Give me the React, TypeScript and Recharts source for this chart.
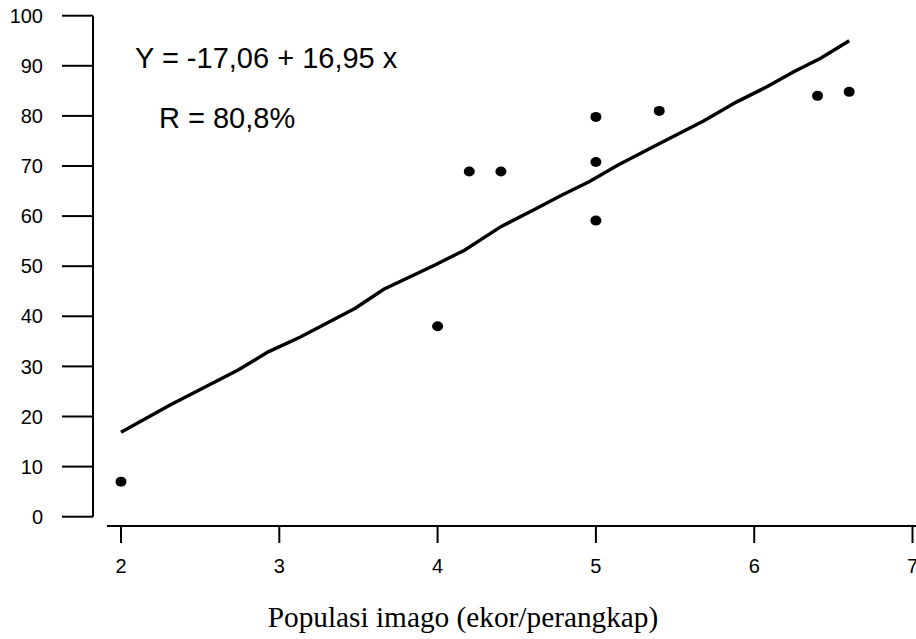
import React from 'react';
import {
  ScatterChart,
  Scatter,
  XAxis,
  YAxis,
  ReferenceLine,
  Customized,
} from 'recharts';

// Observed points
const pointX = [2, 4, 4.2, 4.4, 5, 5, 5, 5.4, 6.4, 6.6];
const pointY = [7, 38, 68.9, 68.9, 79.8, 70.8, 59.1, 81, 84, 84.8];

// Fitted regression line as drawn
const lineX = [2.0, 2.31, 2.74, 2.93, 3.13, 3.48, 3.66, 3.98, 4.17, 4.4, 4.63, 4.78, 4.96, 5.14, 5.39, 5.68, 5.89, 6.08, 6.25, 6.42, 6.6];
const lineY = [16.85, 22.3, 29.3, 32.9, 35.8, 41.6, 45.4, 50.2, 53.2, 57.9, 61.6, 64.1, 66.9, 70.2, 74.3, 79.0, 82.8, 85.8, 88.8, 91.5, 95.0];

const xTicks = [2, 3, 4, 5, 6, 7];
const yTicks = [0, 10, 20, 30, 40, 50, 60, 70, 80, 90, 100];

const equationText = 'Y = -17,06 + 16,95 x';
const rText = 'R = 80,8%';
const xTitle = 'Populasi imago (ekor/perangkap)';

const X_MIN = 1.8231;
const X_MAX = 7.0221;
const X_AXIS_START = 1.9115;
const Y_MIN = -1.856;
const Y_MAX = 100;

const points = pointX.map((x, i) => ({ x, y: pointY[i] }));
const fitLine = lineX.map((x, i) => ({ x, y: lineY[i] }));

const SANS = '"Liberation Sans", Arial, Helvetica, sans-serif';
const SERIF = '"Liberation Serif", "Times New Roman", Times, serif';

const Annotations = () => (
  <g>
    <text x={135} y={67.7} fontSize={29} fontFamily={SANS} fill="#000">
      {equationText}
    </text>
    <text x={159} y={128.3} fontSize={29} fontFamily={SANS} fill="#000">
      {rText}
    </text>
    <text x={463} y={627} fontSize={29.3} fontFamily={SERIF} fill="#000" textAnchor="middle">
      {xTitle}
    </text>
  </g>
);

export default function App() {
  return (
    <div style={{ position: 'absolute', left: 0, top: 0, width: 916, height: 639, background: '#fff' }}>
      <ScatterChart
        width={916}
        height={639}
        margin={{ top: 15.7, right: 0, bottom: 0, left: 0 }}
      >
        <XAxis
          type="number"
          dataKey="x"
          domain={[X_MIN, X_MAX]}
          ticks={xTicks}
          interval={0}
          allowDataOverflow
          axisLine={false}
          tickLine={{ stroke: '#000', strokeWidth: 2 }}
          tickSize={17}
          tickMargin={16}
          height={113}
          tick={{ fill: '#000', fontSize: 20, fontFamily: SANS }}
        />
        <YAxis
          type="number"
          dataKey="y"
          domain={[Y_MIN, Y_MAX]}
          ticks={yTicks}
          interval={0}
          allowDataOverflow
          axisLine={false}
          tickLine={{ stroke: '#000', strokeWidth: 2 }}
          tickSize={31}
          tickMargin={19}
          width={93}
          tick={{ fill: '#000', fontSize: 20, fontFamily: SANS }}
        />
        <ReferenceLine
          segment={[{ x: X_MIN, y: 0 }, { x: X_MIN, y: 100 }]}
          stroke="#000"
          strokeWidth={2}
          ifOverflow="visible"
        />
        <ReferenceLine
          segment={[{ x: X_AXIS_START, y: Y_MIN }, { x: X_MAX, y: Y_MIN }]}
          stroke="#000"
          strokeWidth={2}
          ifOverflow="visible"
        />
        <Scatter
          data={fitLine}
          line={{ stroke: '#000', strokeWidth: 3.4 }}
          lineType="joint"
          shape={() => <g />}
          isAnimationActive={false}
        />
        <Scatter
          data={points}
          fill="#000"
          shape={(props: any) => <ellipse cx={props.cx} cy={props.cy} rx={5.5} ry={5} fill="#000" />}
          isAnimationActive={false}
        />
        <Customized component={Annotations} />
      </ScatterChart>
    </div>
  );
}
